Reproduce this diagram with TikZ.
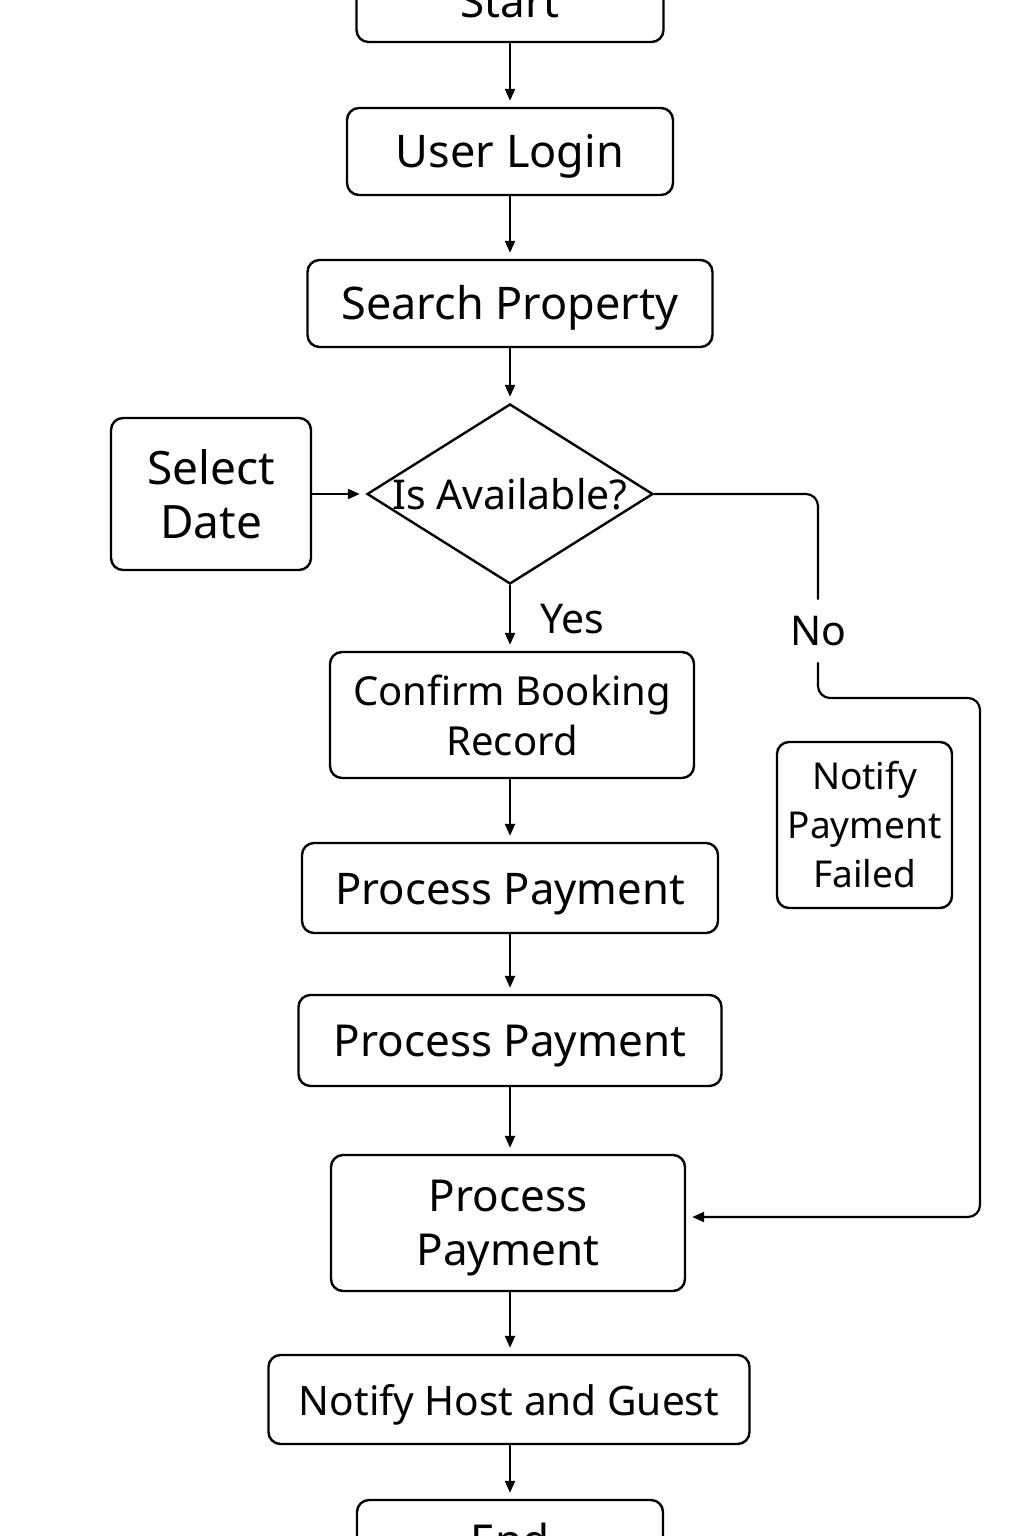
\documentclass[tikz,border=0pt]{standalone}
\usepackage{fontspec}
\setmainfont{Noto Sans}
\usetikzlibrary{shapes.geometric,arrows.meta}
\begin{document}
\begin{tikzpicture}[x=0.5pt,y=-0.5pt,
  every node/.style={font=\fontsize{20.5}{26}\selectfont, align=center, inner sep=0pt},
  box/.style={draw, line width=1.2pt, rounded corners=6pt},
  low/.style={text height=16pt, text depth=-4pt},
  fs/.style={font=\fontsize{#1}{26}\selectfont},
  arr/.style={line width=1.1pt, -{Triangle[length=6pt,width=5pt]}, shorten >=3pt},
  ln/.style={line width=1.1pt}]
\useasboundingbox (0,0) rectangle (1024,1536);
\fill[white] (0,0) rectangle (1024,1536);

\node[box, fs=22, minimum width=153.5pt, minimum height=40pt] (start) at (510,2) {Start};
\node[box, low, fs=22.5, minimum width=163pt, minimum height=43.5pt] (login) at (510,151.5) {User Login};
\node[box, low, fs=22.5, minimum width=202.5pt, minimum height=43.5pt] (search) at (510,303.5) {Search Property};
\node[draw, diamond, line width=1.2pt, minimum width=143pt, minimum height=90pt] (dec) at (510,494) {};
\node (dectext) at (510,494) {Is Available?};
\node[box, font=\fontsize{23}{27}\selectfont, minimum width=100pt, minimum height=76pt] (select) at (211,494) {Select\\Date};
\node[box, font=\fontsize{20}{25}\selectfont, minimum width=182pt, minimum height=63pt] (confirm) at (512,715) {Confirm Booking\\Record};
\node[box, low, fs=21.8, minimum width=208pt, minimum height=45pt] (pp1) at (510,888) {Process Payment};
\node[box, low, fs=22, minimum width=211.5pt, minimum height=45.5pt] (pp2) at (510,1040.5) {Process Payment};
\node[box, font=\fontsize{22}{27}\selectfont, text depth=-2.5pt, minimum width=177pt, minimum height=68pt] (pp3) at (508,1223) {Process\\Payment};
\node[box, low, fs=20.3, minimum width=240.5pt, minimum height=44.5pt] (notify) at (509,1399.5) {Notify Host and Guest};
\node[box, fs=22, minimum width=153pt, minimum height=40pt] (end) at (510,1540) {End};
\node[box, minimum width=87.5pt, minimum height=83pt, font=\fontsize{18.5}{24.5}\selectfont] (failed) at (864.5,825) {Notify\\Payment\\Failed};

\node (yes) at (572,619) {Yes};
\node[minimum height=31pt] (no) at (818,631) {No};
\coordinate (c1) at (980,698);

\draw[arr] (start) -- (login);
\draw[arr] (login) -- (search);
\draw[arr] (search.south) -- (dec.north);
\draw[arr] (select.east) -- (dec.west);
\draw[arr] (dec.south) -- (dec.south |- confirm.north);
\draw[arr] (confirm.south -| pp1.north) -- (pp1.north);
\draw[arr] (pp1) -- (pp2);
\draw[arr] (pp2.south) -- (pp2.south |- pp3.north);
\draw[arr] (pp3.south -| pp2.south) -- (pp2.south |- notify.north);
\draw[arr] (notify.south -| pp2.south) -- (pp2.south |- end.north);
\draw[ln, rounded corners=6pt] (dec.east) -| (no.north);
\draw[arr, rounded corners=6pt] (no.south) |- (c1) |- ([yshift=3pt]pp3.east);
\end{tikzpicture}
\end{document}
